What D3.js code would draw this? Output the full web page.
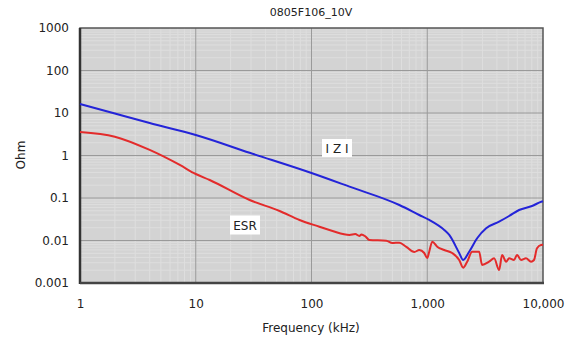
<!DOCTYPE html>
<html><head><meta charset="utf-8">
<script src="https://cdn.jsdelivr.net/npm/d3@7"></script>
<style>
body{margin:0;background:#fff;}
text{font-family:"DejaVu Sans",Verdana,sans-serif;fill:#222;}
</style></head>
<body><svg id="c" width="574" height="342"></svg>
<script>
const title = "0805F106_10V";
const xTicks = [1, 10, 100, 1000, 10000];
const xTickLabels = ["1", "10", "100", "1,000", "10,000"];
const yTicks = [0.001, 0.01, 0.1, 1, 10, 100, 1000];
const yTickLabels = ["0.001", "0.01", "0.1", "1", "10", "100", "1000"];
// |Z| : frequency (kHz), impedance (Ohm)
const zFreq = [1, 2.0, 4.0, 10, 29.2, 100, 213, 574, 853, 1040, 1402, 1549, 1888, 2044, 2302, 2698, 3226, 4176, 5096, 6213, 8040, 9800, 10000];
const zVal  = [16.3, 9.7, 5.8, 3.04, 1.16, 0.388, 0.185, 0.0685, 0.0398, 0.0304, 0.0177, 0.0135, 0.00508, 0.00348, 0.00545, 0.0113, 0.0194, 0.0277, 0.0377, 0.0522, 0.0649, 0.0828, 0.084];
// ESR : frequency (kHz), resistance (Ohm)
const esrFreq = [1, 2.0, 4.0, 7.28, 10, 13.2, 29.2, 53, 78.8, 117, 152, 213, 239, 259, 270, 292, 316, 443, 499, 574, 659, 773, 853, 942, 1000, 1040, 1105, 1219, 1402, 1643, 1888, 2044, 2213, 2444, 2806, 2978, 3420, 3782, 4176, 4433, 4800, 5096, 5623, 5970, 6460, 7130, 7880, 8360, 8870, 9610, 10000];
const esrVal  = [3.57, 2.77, 1.35, 0.598, 0.367, 0.265, 0.0897, 0.0495, 0.0304, 0.0211, 0.0167, 0.0135, 0.0142, 0.0128, 0.0138, 0.0125, 0.0103, 0.0099, 0.0087, 0.0089, 0.0071, 0.00536, 0.00598, 0.00508, 0.00388, 0.00545, 0.00937, 0.00714, 0.00598, 0.00508, 0.00348, 0.00229, 0.00317, 0.00545, 0.00545, 0.00265, 0.00317, 0.00381, 0.00202, 0.00456, 0.00317, 0.00381, 0.00348, 0.00456, 0.00348, 0.00381, 0.00317, 0.00348, 0.00655, 0.00784, 0.0079];

const svg = d3.select("#c");
const L = 80, R = 543, T = 28, B = 283;
const x = d3.scaleLog().domain([1, 10000]).range([L, R]);
const y = d3.scaleLog().domain([0.001, 1000]).range([B, T]);

svg.append("rect").attr("x", L).attr("y", T).attr("width", R - L).attr("height", B - T).attr("fill", "#d3d3d3");

// minor grid
const minorX = [], minorY = [];
for (let d = 1; d < 10000; d *= 10) for (let k = 2; k < 10; k++) minorX.push(d * k);
for (let d = 0.001; d < 999; d *= 10) for (let k = 2; k < 10; k++) minorY.push(d * k);
svg.append("g").selectAll("line").data(minorX).join("line")
  .attr("x1", d => x(d)).attr("x2", d => x(d)).attr("y1", T).attr("y2", B)
  .attr("stroke", "#dedede").attr("stroke-width", 1);
svg.append("g").selectAll("line").data(minorY).join("line")
  .attr("y1", d => y(d)).attr("y2", d => y(d)).attr("x1", L).attr("x2", R)
  .attr("stroke", "#dedede").attr("stroke-width", 1);
// major grid
svg.append("g").selectAll("line").data(xTicks.slice(1, -1)).join("line")
  .attr("x1", d => x(d)).attr("x2", d => x(d)).attr("y1", T).attr("y2", B)
  .attr("stroke", "#9a9a9a").attr("stroke-width", 1);
svg.append("g").selectAll("line").data(yTicks.slice(1, -1)).join("line")
  .attr("y1", d => y(d)).attr("y2", d => y(d)).attr("x1", L).attr("x2", R)
  .attr("stroke", "#9a9a9a").attr("stroke-width", 1);

// frame
svg.append("rect").attr("x", L).attr("y", T).attr("width", R - L).attr("height", B - T)
  .attr("fill", "none").attr("stroke", "#555").attr("stroke-width", 1.5);
svg.append("line").attr("x1", L).attr("x2", L).attr("y1", T).attr("y2", B + 1).attr("stroke", "#333").attr("stroke-width", 2.5);
svg.append("line").attr("x1", L).attr("x2", R + 1).attr("y1", B).attr("y2", B).attr("stroke", "#444").attr("stroke-width", 2.5);

// curves
const line = d3.line().x(d => x(d[0])).y(d => y(d[1])).curve(d3.curveMonotoneX);
svg.append("path").datum(zFreq.map((f, i) => [f, zVal[i]])).attr("d", line)
  .attr("fill", "none").attr("stroke", "#2424d8").attr("stroke-width", 2);
svg.append("path").datum(esrFreq.map((f, i) => [f, esrVal[i]])).attr("d", line)
  .attr("fill", "none").attr("stroke", "#e32b2b").attr("stroke-width", 2);

// axes
const xAxis = d3.axisBottom(x).tickValues(xTicks).tickFormat((d, i) => xTickLabels[i]).tickSize(0).tickPadding(16);
const gx = svg.append("g").attr("transform", `translate(0,${B})`).call(xAxis);
gx.select(".domain").remove();
gx.selectAll("text").style("font-family", "DejaVu Sans, sans-serif").style("font-size", "12px").attr("fill", "#222");
const yAxis = d3.axisLeft(y).tickValues(yTicks).tickFormat((d, i) => yTickLabels[i]).tickSize(0).tickPadding(11);
const gy = svg.append("g").attr("transform", `translate(${L},0)`).call(yAxis);
gy.select(".domain").remove();
gy.selectAll("text").style("font-family", "DejaVu Sans, sans-serif").style("font-size", "12px").attr("fill", "#222");

svg.append("text").attr("x", 311).attr("y", 16).attr("text-anchor", "middle").style("font-size", "11px").text(title);
svg.append("text").attr("x", 311).attr("y", 332).attr("text-anchor", "middle").style("font-size", "12px").text("Frequency (kHz)");
svg.append("text").attr("transform", "translate(25,155) rotate(-90)").attr("text-anchor", "middle").style("font-size", "12px").text("Ohm");

// series labels
function label(cx, cy, w, h, t) {
  svg.append("rect").attr("x", cx - w / 2).attr("y", cy - h / 2).attr("width", w).attr("height", h).attr("fill", "#fff");
  svg.append("text").attr("x", cx).attr("y", cy + 4.5).attr("text-anchor", "middle").style("font-size", "12px").text(t);
}
label(337, 148, 30, 18, "I Z I");
label(245, 225, 30, 19, "ESR");
</script></body></html>
